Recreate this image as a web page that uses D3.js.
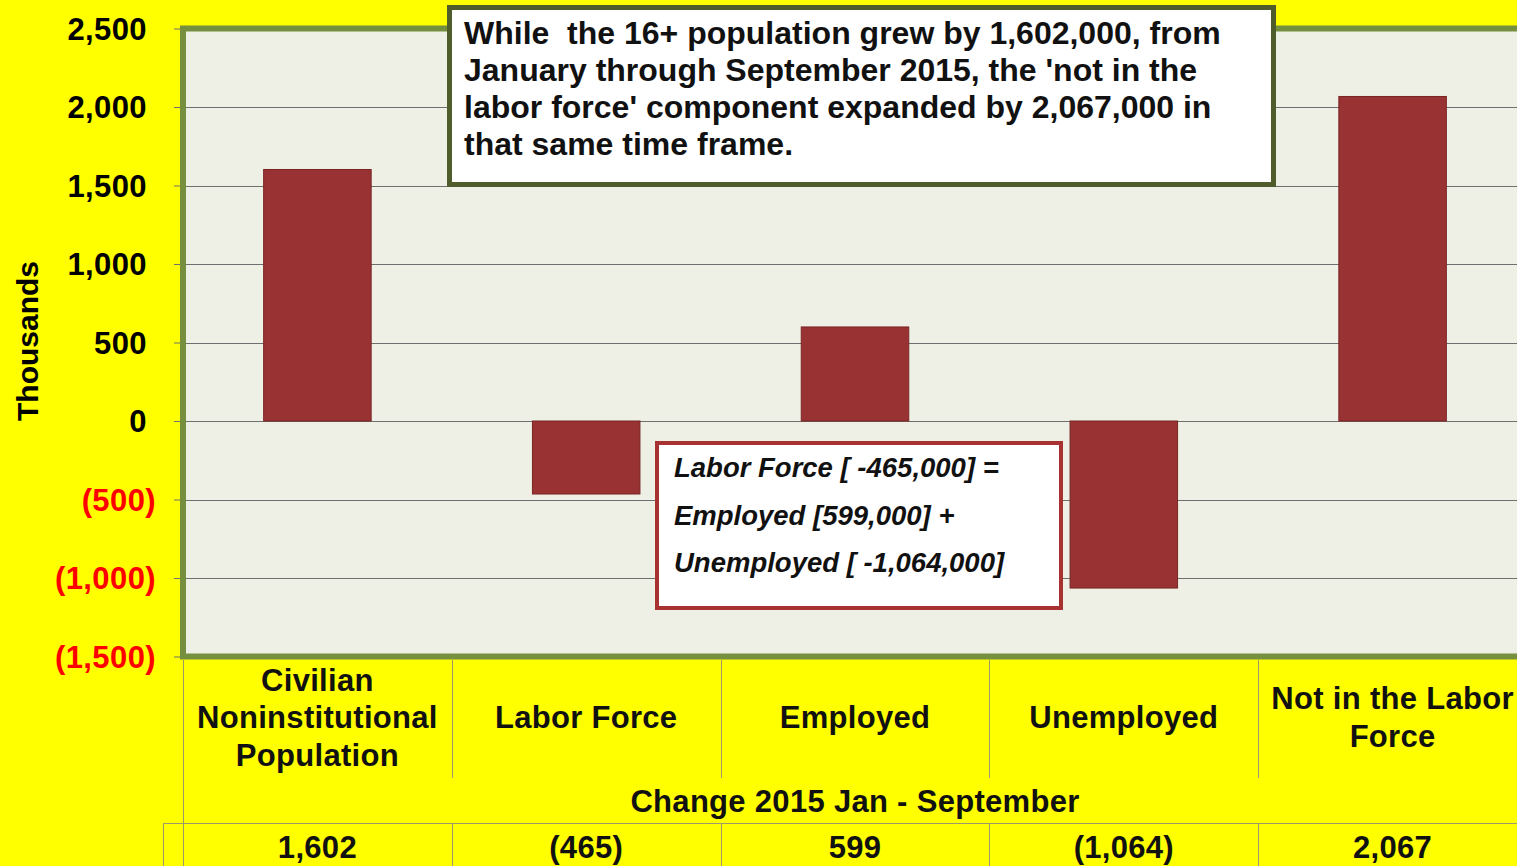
<!DOCTYPE html>
<html><head><meta charset="utf-8">
<script src="https://cdn.jsdelivr.net/npm/d3@7"></script>
<style>html,body{margin:0;padding:0;background:#ffff00;overflow:hidden}svg{display:block}</style>
</head><body><svg id="c" width="1517" height="866"></svg>
<script>
const categories = ["Civilian Noninstitutional Population","Labor Force","Employed","Unemployed","Not in the Labor Force"];
const categoryLines = [["Civilian","Noninstitutional","Population"],["Labor Force"],["Employed"],["Unemployed"],["Not in the Labor","Force"]];
const values = [1602,-465,599,-1064,2067];
const yTicks = [-1500,-1000,-500,0,500,1000,1500,2000,2500];
const tableTitle = "Change 2015 Jan - September";
const yTitle = "Thousands";
const note1 = ["While  the 16+ population grew by 1,602,000, from","January through September 2015, the 'not in the","labor force' component expanded by 2,067,000 in","that same time frame."];
const note2 = ["Labor Force [ -465,000] =","Employed [599,000] +","Unemployed [ -1,064,000]"];

const svg = d3.select("#c");
const W = 1517, H = 866;
const FONT = "'Liberation Sans', Arial, sans-serif";
svg.append("rect").attr("width",W).attr("height",H).attr("fill","#ffff00");

const x0 = 183, x1 = 1527, yTop = 28.5, yBot = 656.5;
const x = d3.scaleBand().domain(categories).range([x0,x1]).paddingInner(0.6).paddingOuter(0.3);
const y = d3.scaleLinear().domain([-1500,2500]).range([yBot,yTop]);
const fmt = v => v < 0 ? "(" + d3.format(",")(-v) + ")" : d3.format(",")(v);

// plot area
svg.append("rect").attr("x",x0).attr("y",yTop).attr("width",x1-x0).attr("height",yBot-yTop)
  .attr("fill","#eef0e5");
// gridlines
svg.append("g").selectAll("line").data(yTicks.filter(t=>t>-1500 && t<2500)).join("line")
  .attr("x1",x0).attr("x2",x1).attr("y1",d=>Math.round(y(d))+0.5).attr("y2",d=>Math.round(y(d))+0.5)
  .attr("stroke","#6f6f6f").attr("stroke-width",1);

// y axis (ticks only)
const yAxis = d3.axisLeft(y).tickValues(yTicks).tickSize(9).tickFormat("");
const ag = svg.append("g").attr("transform",`translate(${x0},0)`).call(yAxis);
ag.select(".domain").remove();
ag.selectAll(".tick line").attr("stroke","#6f6f6f");
// tick labels
svg.append("g").selectAll("text").data(yTicks).join("text")
  .attr("x",d=> d<0 ? 156 : 147).attr("y",d=>y(d)).attr("dy","0.36em")
  .attr("text-anchor","end").attr("font-family",FONT).attr("font-weight","bold").attr("font-size",31)
  .attr("letter-spacing",0.4)
  .attr("fill",d=>d<0?"#ff0000":"#000").text(fmt);

svg.append("text").attr("transform","translate(38,341) rotate(-90)").attr("text-anchor","middle")
  .attr("font-family",FONT).attr("font-weight","bold").attr("font-size",30).attr("fill","#000").text(yTitle);

// bars
svg.append("g").selectAll("rect").data(values).join("rect")
  .attr("x",(d,i)=>x(categories[i])).attr("width",x.bandwidth())
  .attr("y",d=>y(Math.max(0,d))).attr("height",d=>Math.abs(y(d)-y(0)))
  .attr("fill","#993333").attr("stroke","#7a2525").attr("stroke-width",1);

// plot border
svg.append("rect").attr("x",x0).attr("y",yTop).attr("width",x1-x0).attr("height",yBot-yTop)
  .attr("fill","none").attr("stroke","#758f3f").attr("stroke-width",6);

// table
const step = x.step();
const colEdges = categories.map((c,i)=>x0 + i*step);
const tg = svg.append("g").attr("stroke","#9c9a6c").attr("stroke-width",1);
tg.append("line").attr("x1",x0+0.5).attr("x2",x0+0.5).attr("y1",660).attr("y2",H);
colEdges.slice(1).forEach(e=>{
  tg.append("line").attr("x1",Math.round(e)+0.5).attr("x2",Math.round(e)+0.5).attr("y1",660).attr("y2",778);
  tg.append("line").attr("x1",Math.round(e)+0.5).attr("x2",Math.round(e)+0.5).attr("y1",823).attr("y2",H);
});
tg.append("line").attr("x1",163.5).attr("x2",163.5).attr("y1",823).attr("y2",H);
tg.append("line").attr("x1",163).attr("x2",W).attr("y1",823.5).attr("y2",823.5);

const labG = svg.append("g").attr("font-family",FONT).attr("font-weight","bold").attr("font-size",31)
  .attr("letter-spacing",0.3).attr("text-anchor","middle").attr("fill","#111");
categoryLines.forEach((lines,i)=>{
  const cx = x(categories[i]) + x.bandwidth()/2;
  const lh = 37.5;
  const mid = 717;
  lines.forEach((ln,j)=>{
    labG.append("text").attr("x",cx).attr("y",mid + (j-(lines.length-1)/2)*lh).attr("dy","0.36em").text(ln);
  });
  labG.append("text").attr("x",cx).attr("y",847).attr("dy","0.36em").text(fmt(values[i]));
});
labG.append("text").attr("x",(x0+x1)/2).attr("y",801).attr("dy","0.36em").text(tableTitle);

// note box 1
svg.append("rect").attr("x",449.5).attr("y",7.5).attr("width",824).attr("height",177)
  .attr("fill","#ffffff").attr("stroke","#4f5c2b").attr("stroke-width",5);
const n1 = svg.append("g").attr("font-family",FONT).attr("font-weight","bold").attr("font-size",32).attr("fill","#111");
note1.forEach((ln,j)=>{
  n1.append("text").attr("x",464).attr("y",44 + j*37).attr("xml:space","preserve").style("white-space","pre").text(ln);
});

// note box 2
svg.append("rect").attr("x",657).attr("y",443).attr("width",404).attr("height",165)
  .attr("fill","#ffffff").attr("stroke","#a83232").attr("stroke-width",4);
const n2 = svg.append("g").attr("font-family",FONT).attr("font-weight","bold").attr("font-style","italic").attr("font-size",27.5).attr("fill","#111");
note2.forEach((ln,j)=>{
  n2.append("text").attr("x",674).attr("y",477 + j*47.5).text(ln);
});
</script></body></html>
